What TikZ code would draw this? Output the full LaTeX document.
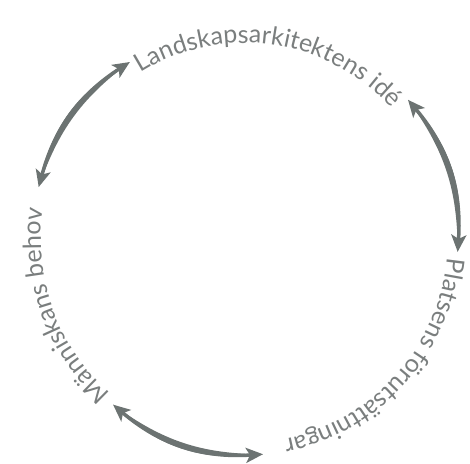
\documentclass[tikz,border=0pt]{standalone}
\usepackage{fontspec}
\setmainfont{Lato}
\usetikzlibrary{arrows.meta,decorations.text}
\definecolor{cycgray}{RGB}{108,115,114}
\definecolor{labgray}{RGB}{122,126,126}

\begin{document}
\begin{tikzpicture}[x=1pt,y=1pt,
  cyc/.style={draw=cycgray,line width=3.5pt,
    {Stealth[length=17pt,width=15pt,inset=4pt]}-{Stealth[length=17pt,width=15pt,inset=4pt]}},
  lens/.style={fill=cycgray},
  circlabel/.style={decorate,decoration={text along path,text align=center,
    text={|\fontsize{25}{30}\selectfont\color{labgray}|#1}}}]
  \useasboundingbox (0,0) rectangle (470,463);
  \begin{scope}[shift={(245,223)}]
  % texts, clockwise round the circle
  \path[circlabel={Landskapsarkitektens idé}] (150:197pt) arc[start angle=150,end angle=14,radius=197pt];
  \path[circlabel={Platsens förutsättningar}] (22:203pt) arc[start angle=22,end angle=-106,radius=203pt];
  \path[circlabel={Människans behov}] (265:204pt) arc[start angle=265,end angle=135,radius=204pt];
  % arrow ends
  \coordinate (mh-top) at (165.6:213pt);
  \coordinate (la-left) at (122.9:212pt);
  \coordinate (la-right) at (40.7:215pt);
  \coordinate (pl-top) at (-3.2:213pt);
  \coordinate (pl-bot) at (-85.2:215pt);
  \coordinate (mh-bot) at (231.3:211pt);
  % arrows
  \fill[lens] (mh-top) to[bend left=25] (la-left) to[bend right=17] (mh-top);
  \draw[cyc] (mh-top) to[bend left=21] (la-left);
  \fill[lens] (la-right) to[bend left=26] (pl-top) to[bend right=18] (la-right);
  \draw[cyc] (la-right) to[bend left=22] (pl-top);
  \fill[lens] (pl-bot) to[bend left=26] (mh-bot) to[bend right=18] (pl-bot);
  \draw[cyc] (pl-bot) to[bend left=22] (mh-bot);
  \end{scope}
\end{tikzpicture}
\end{document}
